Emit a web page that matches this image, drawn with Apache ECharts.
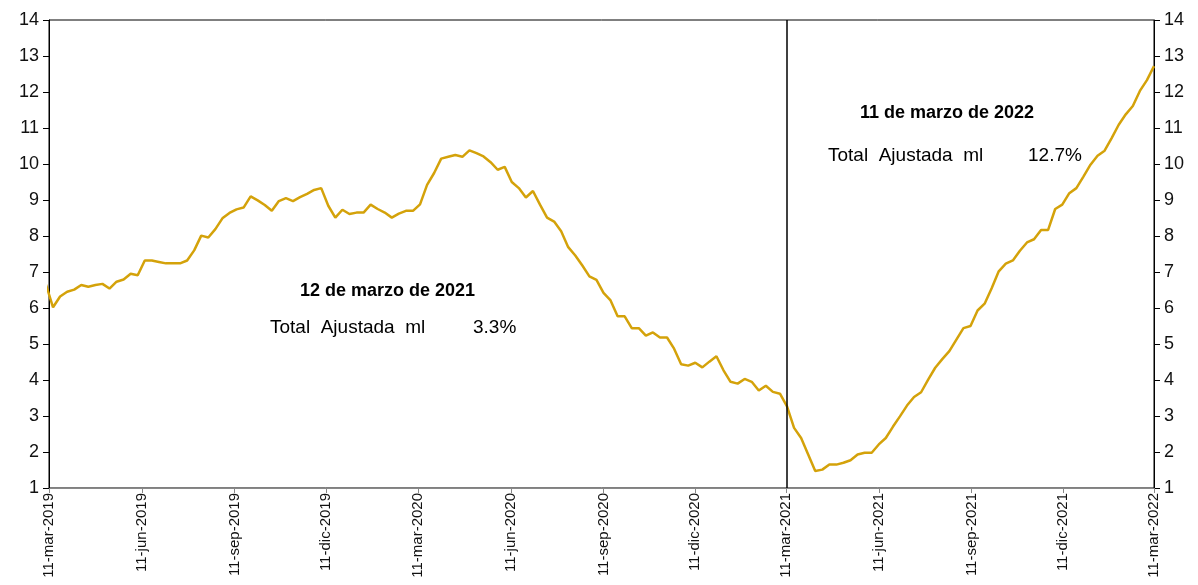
<!DOCTYPE html>
<html>
<head>
<meta charset="utf-8">
<script src="https://cdn.jsdelivr.net/npm/echarts@6/dist/echarts.min.js"></script>
<style>
html,body{margin:0;padding:0;background:#fff;}
#chart{width:1198px;height:585px;}
</style>
</head>
<body>
<div id="chart"></div>
<script>
// Weekly series: first point 8-mar-2019 (partly outside the axis range), then every 7 days to 11-mar-2022
var startDate = '2019-03-08';
var values = [
 6.65,
 6.02,6.32,6.45,6.51,6.64,6.59,6.64,6.67,6.54,6.73,
 6.79,6.95,6.91,7.32,7.32,7.28,7.24,7.24,7.24,7.32,
 7.60,8.01,7.96,8.19,8.49,8.64,8.74,8.79,9.10,8.99,
 8.86,8.70,8.97,9.05,8.97,9.08,9.17,9.28,9.33,8.84,
 8.51,8.73,8.61,8.65,8.65,8.87,8.75,8.65,8.51,8.62,
 8.70,8.70,8.88,9.42,9.75,10.15,10.20,10.25,10.20,10.38,
 10.30,10.21,10.05,9.84,9.92,9.50,9.33,9.07,9.25,8.87,
 8.51,8.40,8.13,7.69,7.46,7.18,6.88,6.78,6.42,6.21,
 5.77,5.77,5.44,5.44,5.23,5.32,5.18,5.18,4.87,4.44,
 4.40,4.48,4.35,4.51,4.66,4.27,3.95,3.90,4.03,3.95,
 3.71,3.84,3.67,3.62,3.27,2.67,2.39,1.93,1.47,1.51,
 1.65,1.65,1.70,1.77,1.93,1.98,1.98,2.21,2.39,2.70,
 2.99,3.29,3.53,3.66,4.01,4.34,4.58,4.80,5.12,5.44,
 5.50,5.93,6.12,6.55,7.02,7.23,7.32,7.59,7.82,7.91,
 8.17,8.17,8.75,8.87,9.19,9.33,9.65,9.98,10.23,10.37,
 10.72,11.09,11.38,11.61,12.03,12.33,12.72
];
var tickDates = ['2019-03-11','2019-06-11','2019-09-11','2019-12-11','2020-03-11','2020-06-11','2020-09-11','2020-12-11','2021-03-11','2021-06-11','2021-09-11','2021-12-11','2022-03-11'];
var tickLabels = ['11-mar-2019','11-jun-2019','11-sep-2019','11-dic-2019','11-mar-2020','11-jun-2020','11-sep-2020','11-dic-2020','11-mar-2021','11-jun-2021','11-sep-2021','11-dic-2021','11-mar-2022'];
var markDate = '2021-03-12';
var note1Title = '12 de marzo de 2021';
var note1Label = 'Total  Ajustada  ml';
var note1Value = '3.3%';
var note2Title = '11 de marzo de 2022';
var note2Label = 'Total  Ajustada  ml';
var note2Value = '12.7%';

// x positions as day offsets from the first tick date
function ts(s){ var p = s.split('-'); return Date.UTC(+p[0], +p[1]-1, +p[2]); }
var DAY = 86400000;
var base = ts(tickDates[0]);
function dayOf(s){ return Math.round((ts(s) - base) / DAY); }
var d0 = dayOf(startDate);
var seriesData = values.map(function(v,i){ return [d0 + i*7, v]; });
var tickDays = tickDates.map(dayOf);
var labelMap = {};
tickDays.forEach(function(d,i){ labelMap[d] = tickLabels[i]; });

var FONT = "'Liberation Sans', Arial, sans-serif";
var chart = echarts.init(document.getElementById('chart'), null, {renderer:'canvas'});
var yCommon = {
  type:'value', min:1, max:14, interval:1,
  splitLine:{show:false},
  axisLine:{show:true, lineStyle:{color:'#000', width:1}},
  axisTick:{show:true, inside:false, length:6, lineStyle:{color:'#000'}},
  axisLabel:{color:'#111', fontSize:18, fontFamily:FONT, margin:10}
};
chart.setOption({
  animation:false,
  backgroundColor:'#fff',
  grid:{left:49, right:44, top:20, bottom:97, show:true, borderColor:'#000', borderWidth:1},
  xAxis:{
    type:'value', min:tickDays[0], max:tickDays[tickDays.length-1],
    splitLine:{show:false},
    axisLine:{show:true, lineStyle:{color:'#888', width:1}},
    axisTick:{show:true, customValues:tickDays, length:5, lineStyle:{color:'#888'}},
    axisLabel:{customValues:tickDays, rotate:90, color:'#111', fontSize:15, fontFamily:FONT, margin:5,
      formatter:function(v){ return labelMap[Math.round(v)] || ''; }}
  },
  yAxis:[
    Object.assign({}, yCommon, {position:'left'}),
    Object.assign({}, yCommon, {position:'right'})
  ],
  series:[{
    type:'line', data:seriesData, showSymbol:false, symbol:'none', clip:true,
    lineStyle:{color:'#D4A20A', width:2.5},
    markLine:{
      silent:true, symbol:['none','none'], label:{show:false},
      lineStyle:{color:'#000', width:1.5, type:'solid'},
      data:[{xAxis: dayOf(markDate)}]
    }
  }],
  graphic:[
    {type:'text', left:300, top:282, style:{text:note1Title, font:"bold 18px "+FONT, fill:'#000'}},
    {type:'text', left:270, top:318, style:{text:note1Label, font:"19px "+FONT, fill:'#000'}},
    {type:'text', left:473, top:318, style:{text:note1Value, font:"19px "+FONT, fill:'#000'}},
    {type:'text', left:860, top:104, style:{text:note2Title, font:"bold 18px "+FONT, fill:'#000'}},
    {type:'text', left:828, top:146, style:{text:note2Label, font:"19px "+FONT, fill:'#000'}},
    {type:'text', left:1028, top:146, style:{text:note2Value, font:"19px "+FONT, fill:'#000'}}
  ]
});
</script>
</body>
</html>
